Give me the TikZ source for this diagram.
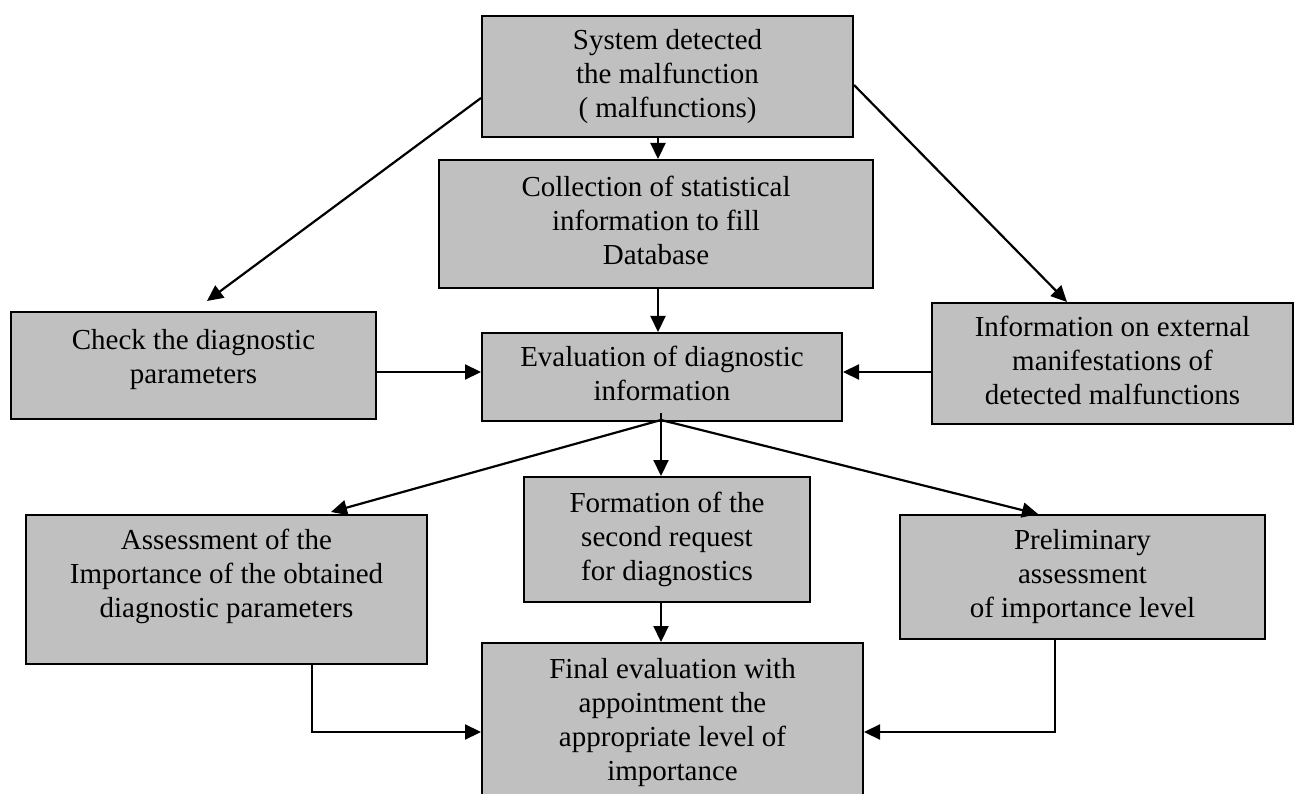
\documentclass[tikz,border=0pt]{standalone}
\usepackage{fontspec}
\setmainfont{Liberation Serif}
\usetikzlibrary{arrows.meta,calc}
\definecolor{boxgray}{RGB}{192,192,192}
\newcommand{\bt}[2]{\raisebox{0pt}[\height][\dimexpr\depth+#1\relax]{\begin{tabular}{@{}c@{}}#2\end{tabular}}}
\begin{document}
\begin{tikzpicture}[x=1pt,y=-1pt,
  box/.style={draw=black, line width=2pt, fill=boxgray, inner sep=0pt, font=\fontsize{29}{34}\selectfont},
  conn/.style={line width=2.2pt, -{Triangle[length=16pt,width=15pt]}}]
\useasboundingbox (0,0) rectangle (1294,794);
\clip (0,0) rectangle (1294,794);

\node[box, minimum width=371pt, minimum height=121pt] (top) at (667.5,76.5) {\bt{0pt}{System detected\\the malfunction\\( malfunctions)}};
\node[box, minimum width=434pt, minimum height=128pt] (coll) at (656,224) {\bt{0pt}{Collection of statistical\\information to fill\\Database}};
\node[box, minimum width=365pt, minimum height=107pt] (check) at (193.5,365.5) {\bt{12pt}{Check the diagnostic\\parameters}};
\node[box, minimum width=360pt, minimum height=88pt] (eval) at (662,377) {\bt{0pt}{Evaluation of diagnostic\\information}};
\node[box, minimum width=361pt, minimum height=121pt] (info) at (1112.5,363.5) {\bt{0pt}{Information on external\\manifestations of\\detected malfunctions}};
\node[box, minimum width=401pt, minimum height=149pt] (assess) at (226.5,589.5) {\bt{26pt}{Assessment of the\\Importance of the obtained\\diagnostic parameters}};
\node[box, minimum width=286pt, minimum height=125pt] (form) at (667,539.5) {\bt{0pt}{Formation of the\\second request\\for diagnostics}};
\node[box, minimum width=365pt, minimum height=124pt] (prelim) at (1082.5,577) {\bt{0pt}{Preliminary\\assessment\\of importance level}};
\node[box, minimum width=381pt, minimum height=160pt] (final) at (672.5,723) {\bt{0pt}{Final evaluation with\\appointment the\\appropriate level of\\importance}};

\coordinate (fan) at ([xshift=-1pt,yshift=2pt]eval.south);

\draw[conn] ([xshift=-9.5pt]top.south) -- ([xshift=2pt]coll.north);
\draw[conn] ([yshift=-21.5pt]top.west) -- ([xshift=13.5pt,yshift=10pt]check.north);
\draw[conn] ([yshift=-8.5pt]top.east) -- ([xshift=-45.5pt]info.north);
\draw[conn] ([xshift=2pt]coll.south) -- ([xshift=-4pt]eval.north);
\draw[conn] ([yshift=-6.5pt]check.east) -- ([yshift=-6.5pt]check.east -| eval.west);
\draw[conn] ([yshift=-8.5pt]info.west) -- ([yshift=-8.5pt]info.west -| eval.east);
\draw[conn] ([xshift=-1pt,yshift=9pt]eval.south) -- ([xshift=-6pt]form.north);
\draw[conn] (fan) -- ([xshift=104.5pt,yshift=2pt]assess.north);
\draw[conn] (fan) -- ([xshift=-44.5pt]prelim.north);
\draw[conn] ([xshift=-6pt]form.south) -- ([xshift=-11.5pt]final.north);
\draw[conn] ([xshift=85.5pt]assess.south) |- ([yshift=-9pt]final.west);
\draw[conn] ([xshift=-27.5pt]prelim.south) |- ([yshift=-9pt]final.east);
\end{tikzpicture}
\end{document}
